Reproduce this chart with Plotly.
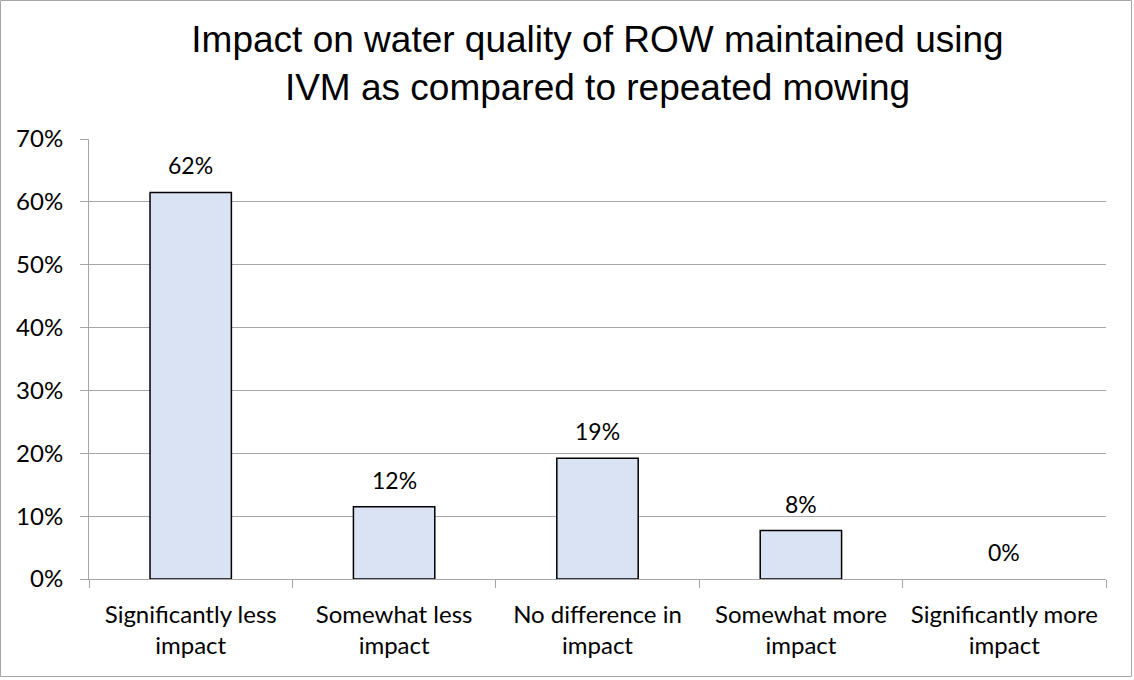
import plotly.graph_objects as go

categories = ["Significantly less<br>impact", "Somewhat less<br>impact", "No difference in<br>impact",
              "Somewhat more<br>impact", "Significantly more<br>impact"]
values = [0.615, 0.115, 0.192, 0.077, 0.0]
y_ticks = [0, 0.1, 0.2, 0.3, 0.4, 0.5, 0.6, 0.7]
title = "Impact on water quality of ROW maintained using<br>IVM as compared to repeated mowing"

W, H = 1134, 680
ml, mr, mt, mb = 89, 28, 139, 101

fig = go.Figure(go.Bar(
    x=categories, y=values, width=0.4,
    marker=dict(color="#dae3f3",
                line=dict(color="#000000", width=[1.5 if v > 0 else 0 for v in values])),
    hoverinfo="x+y",
))

for c, v in zip(categories, values):
    fig.add_annotation(x=c, y=v, text=f"{v:.0%}", showarrow=False,
                       yanchor="middle", yshift=27,
                       font=dict(family="Lato", size=23, color="#000000"))

pw = W - ml - mr
ph = H - mt - mb
fig.add_shape(type="rect", xref="paper", yref="paper",
              x0=-ml / pw + 0.5 / pw, x1=1 + (mr - 2.5) / pw,
              y0=-(mb - 3.5) / ph, y1=1 + (mt - 0.5) / ph,
              line=dict(color="#a6a6a6", width=1), layer="below")

fig.update_layout(
    width=W, height=H,
    margin=dict(l=ml, r=mr, t=mt, b=mb, autoexpand=False),
    paper_bgcolor="white", plot_bgcolor="white",
    title=dict(text=title, x=0.5, xref="paper", xanchor="center",
               y=1 - 52 / H, yanchor="middle",
               font=dict(family="Liberation Sans", size=37, color="#000000")),
    showlegend=False,
    xaxis=dict(tickson="boundaries", ticks="outside", ticklen=8, tickcolor="#a6a6a6",
               showline=True, linecolor="#a6a6a6", linewidth=1,
               tickfont=dict(family="Lato", size=24, color="#000000"),
               ticklabelstandoff=14,
               showgrid=False, automargin=False),
    yaxis=dict(range=[0, 0.7], tickvals=y_ticks, tickformat=".0%",
               ticks="outside", ticklen=8, tickcolor="#a6a6a6",
               showline=True, linecolor="#a6a6a6", linewidth=1,
               gridcolor="#a6a6a6", gridwidth=1,
               tickfont=dict(family="Lato", size=24, color="#000000"),
               ticklabelstandoff=12,
               zeroline=False, automargin=False),
)

fig.write_html("out.html", config={"displayModeBar": False},
               post_script="document.body.style.margin='0';")
